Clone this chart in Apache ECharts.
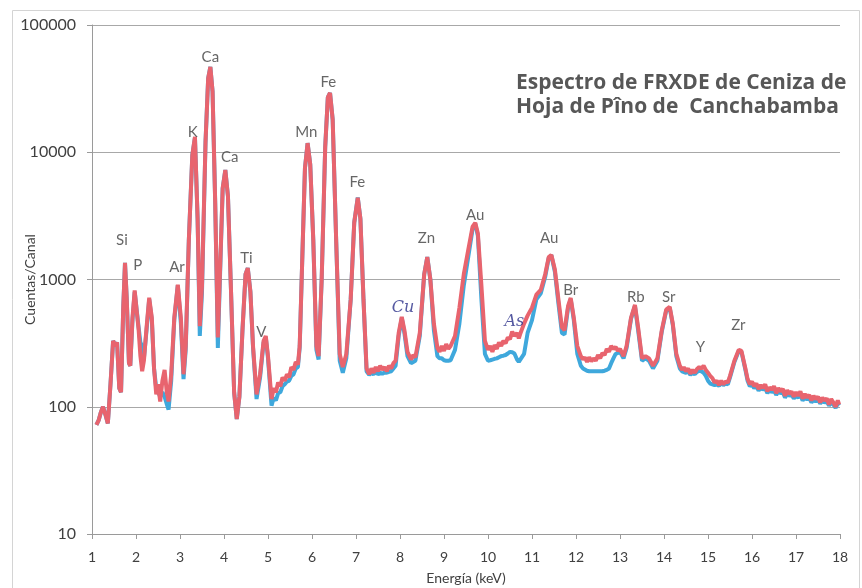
<!DOCTYPE html>
<html>
<head>
<meta charset="utf-8">
<script src="https://cdn.jsdelivr.net/npm/echarts@6/dist/echarts.min.js"></script>
<style>html,body{margin:0;padding:0;background:#fff}#c{width:862px;height:588px}</style>
</head>
<body>
<div id="c"></div>
<script>
var energy = [
1.10,1.15,1.20,1.25,1.30,1.36,1.42,1.48,1.53,1.57,
1.62,1.66,1.71,1.75,1.79,1.84,1.87,1.92,1.97,2.01,
2.06,2.10,2.14,2.18,2.24,2.30,2.36,2.41,2.46,2.50,
2.55,2.60,2.65,2.70,2.74,2.80,2.87,2.95,3.02,3.08,
3.13,3.20,3.28,3.34,3.40,3.45,3.50,3.58,3.64,3.69,
3.74,3.80,3.86,3.92,3.97,4.03,4.09,4.16,4.23,4.29,
4.35,4.42,4.49,4.54,4.60,4.66,4.74,4.82,4.90,4.95,
5.00,5.08,5.13,5.18,5.23,5.28,5.33,5.38,5.43,5.48,
5.53,5.58,5.63,5.68,5.72,5.78,5.84,5.90,5.96,6.03,
6.10,6.15,6.22,6.30,6.36,6.41,6.47,6.55,6.63,6.70,
6.78,6.88,6.96,7.04,7.10,7.17,7.24,7.30,7.35,7.40,
7.45,7.50,7.55,7.60,7.65,7.70,7.75,7.80,7.85,7.90,
7.97,8.04,8.10,8.17,8.25,8.30,8.35,8.45,8.55,8.62,
8.69,8.77,8.85,8.90,8.95,9.00,9.05,9.10,9.15,9.25,
9.35,9.45,9.55,9.65,9.71,9.77,9.85,9.93,10.00,10.05,
10.10,10.15,10.20,10.25,10.30,10.35,10.40,10.45,10.50,10.55,
10.60,10.66,10.70,10.74,10.82,10.90,11.00,11.10,11.20,11.30,
11.38,11.44,11.52,11.60,11.68,11.74,11.82,11.88,11.95,12.03,
12.11,12.16,12.20,12.25,12.30,12.35,12.40,12.45,12.50,12.55,
12.60,12.65,12.70,12.75,12.80,12.85,12.90,12.95,13.00,13.08,
13.15,13.25,13.34,13.42,13.50,13.58,13.66,13.75,13.85,13.95,
14.05,14.13,14.20,14.28,14.36,14.41,14.45,14.50,14.55,14.60,
14.65,14.70,14.75,14.80,14.85,14.90,14.95,15.00,15.05,15.10,
15.15,15.20,15.25,15.30,15.35,15.40,15.45,15.50,15.60,15.70,
15.76,15.85,15.90,15.95,16.00,16.05,16.10,16.15,16.20,16.25,
16.30,16.35,16.40,16.45,16.50,16.55,16.60,16.65,16.70,16.75,
16.80,16.85,16.90,16.95,17.00,17.05,17.10,17.15,17.20,17.25,
17.30,17.35,17.40,17.45,17.50,17.55,17.60,17.65,17.70,17.75,
17.80,17.85,17.90,17.95,17.98];
var countsRed = [
72,78,90,100,88,74,150,330,300,320,
140,130,600,1350,700,220,210,500,820,800,
400,250,190,230,420,720,500,200,125,150,
110,160,195,130,110,180,500,910,500,180,
300,2000,9500,13200,3000,430,900,12000,38000,46800,
30000,4000,350,1500,5200,7260,4500,800,130,80,
120,400,1100,1230,800,300,125,180,330,360,
250,115,140,130,155,145,170,160,180,170,
205,195,225,215,300,1500,7500,11800,8000,2000,
300,250,1000,11000,27000,29300,18000,2000,260,205,
260,700,2800,4380,3000,700,200,180,200,185,
205,190,210,195,205,190,210,200,220,230,
380,508,400,270,235,255,245,380,1100,1500,
1000,450,290,270,300,275,310,285,300,360,
600,1100,1700,2600,2790,2300,900,330,280,300,
270,305,285,320,300,330,315,350,340,390,
360,380,345,380,450,520,600,760,830,1100,
1500,1560,1200,700,420,400,620,716,500,300,
250,235,245,225,245,228,240,230,255,240,
265,255,285,270,300,285,295,275,285,250,
300,500,631,400,240,250,240,210,240,400,
580,610,450,260,210,195,205,190,200,182,
195,185,198,205,200,210,195,185,175,168,
155,160,148,160,150,158,155,175,230,280,
275,200,165,150,158,145,152,138,148,140,
150,132,142,136,145,128,140,132,138,122,
135,126,132,120,130,122,132,116,126,118,
124,112,122,115,120,108,118,112,116,104,
115,108,100,112,104];
var countsBlue = [
72,78,90,100,88,74,150,330,300,320,
140,130,600,1350,700,220,210,480,800,780,
420,320,300,240,400,700,480,200,140,145,
120,130,120,105,95,160,480,900,450,165,
280,2000,9500,13000,3000,360,800,12000,38000,46800,
30000,4000,290,1400,5200,7260,4500,800,130,80,
120,400,1100,1230,800,290,115,170,320,350,
240,102,118,112,128,130,145,150,158,160,
175,180,200,205,290,1500,7500,11800,8000,2000,
280,235,1000,11000,27000,29300,18000,2000,230,185,
240,700,2800,4400,3000,700,190,178,185,180,
188,180,185,182,186,185,188,190,200,210,
360,500,380,250,220,225,230,360,1100,1500,
1000,400,250,240,240,232,230,230,232,280,
450,900,1500,2500,2750,2200,700,260,230,232,
235,238,240,245,250,252,255,262,270,268,
262,235,225,225,260,380,480,700,780,1050,
1480,1550,1150,650,380,370,600,700,480,260,
210,200,195,192,190,190,190,190,190,190,
190,192,195,200,220,240,260,265,270,240,
290,490,620,380,230,240,230,200,230,390,
570,600,440,250,200,190,195,185,190,178,
185,180,188,192,190,185,175,160,152,150,
148,150,146,155,148,152,150,170,225,275,
270,195,160,145,150,140,146,134,142,136,
140,128,136,130,135,124,132,128,130,118,
126,122,125,116,122,118,124,112,118,114,
118,108,114,110,114,106,112,108,110,102,
108,104,98,106,102];

var peakNames = ['Si','P','Ar','K','Ca','Ca','Ti','V','Mn','Fe','Fe','Zn','Au','Au','Br','Rb','Sr','Y','Zr'];
var peakE = [1.68,2.04,2.93,3.29,3.69,4.13,4.51,4.85,5.87,6.37,7.03,8.60,9.71,11.39,11.88,13.36,14.11,14.83,15.69];
var peakY = [2050,1300,1250,14400,56100,9190,1480,387,14400,35600,5850,2120,3210,2120,828,730,730,295,440];
var noteNames = ['Cu','As'];
var noteE = [8.07,10.60];
var noteY = [598,464];

var FONT = 'Lato, "Open Sans", sans-serif';
function pts(xs, ys){ return xs.map(function(x,i){ return [x, ys[i]]; }); }
function lbl(xs, ys, ns){ return xs.map(function(x,i){ return {value:[x, ys[i]], name: ns[i]}; }); }

var chart = echarts.init(document.getElementById('c'), null, {renderer:'canvas'});
chart.setOption({
  backgroundColor: '#ffffff',
  animation: false,
  title: {
    text: 'Espectro de FRXDE de Ceniza de\nHoja de Pîno de  Canchabamba',
    left: 511, top: 66,
    textStyle: {fontFamily: '"Open Sans", sans-serif', fontSize: 21, fontWeight: 'bold', color: '#575757', lineHeight: 24}
  },
  graphic: [{
    type: 'rect', left: 10, top: 8, silent: true,
    shape: {width: 847, height: 580},
    style: {fill: 'none', stroke: '#d4d4d4', lineWidth: 1}
  }],
  grid: {left: 92, right: 22, top: 25, bottom: 54, outerBoundsMode: 'none', containLabel: false},
  xAxis: {
    type: 'value', min: 1, max: 18, interval: 1,
    name: 'Energía (keV)', nameLocation: 'middle', nameGap: 37, nameMoveOverlap: false,
    nameTextStyle: {fontFamily: FONT, fontSize: 14, color: '#404040'},
    axisLine: {lineStyle: {color: '#9a9a9a'}},
    axisTick: {show: true, length: 5, lineStyle: {color: '#9a9a9a'}},
    axisLabel: {fontFamily: FONT, fontSize: 14, color: '#404040', margin: 16},
    splitLine: {show: false}
  },
  yAxis: {
    type: 'log', logBase: 10, min: 10, max: 100000,
    name: 'Cuentas/Canal', nameLocation: 'middle', nameGap: 55, nameMoveOverlap: false,
    nameTextStyle: {fontFamily: FONT, fontSize: 14, color: '#404040'},
    axisLine: {show: true, lineStyle: {color: '#9a9a9a'}},
    axisTick: {show: true, length: 5, lineStyle: {color: '#9a9a9a'}},
    axisLabel: {fontFamily: FONT, fontSize: 16, color: '#404040', margin: 16,
                formatter: function(v){ return String(Math.round(v)); }},
    splitLine: {show: true, lineStyle: {color: '#a8a8a8', width: 1}}
  },
  series: [
    {type: 'line', name: 'blue', data: pts(energy, countsBlue), showSymbol: false, z: 2,
     lineStyle: {color: '#3fa8dc', width: 4}, itemStyle: {color: '#3fa8dc'}},
    {type: 'line', name: 'red', data: pts(energy, countsRed), showSymbol: false, z: 3,
     lineStyle: {color: '#e8646e', width: 4}, itemStyle: {color: '#e8646e'}},
    {type: 'scatter', name: 'peaks', data: lbl(peakE, peakY, peakNames), symbolSize: 1, z: 5,
     itemStyle: {color: 'rgba(0,0,0,0)'},
     label: {show: true, position: 'inside', formatter: '{b}', fontFamily: FONT, fontSize: 15, color: '#404040'}},
    {type: 'scatter', name: 'notes', data: lbl(noteE, noteY, noteNames), symbolSize: 1, z: 5,
     itemStyle: {color: 'rgba(0,0,0,0)'},
     label: {show: true, position: 'inside', formatter: '{b}',
             fontFamily: '"DejaVu Serif", serif', fontStyle: 'italic', fontSize: 16, color: '#2b2f8a'}}
  ]
});
</script>
</body>
</html>
